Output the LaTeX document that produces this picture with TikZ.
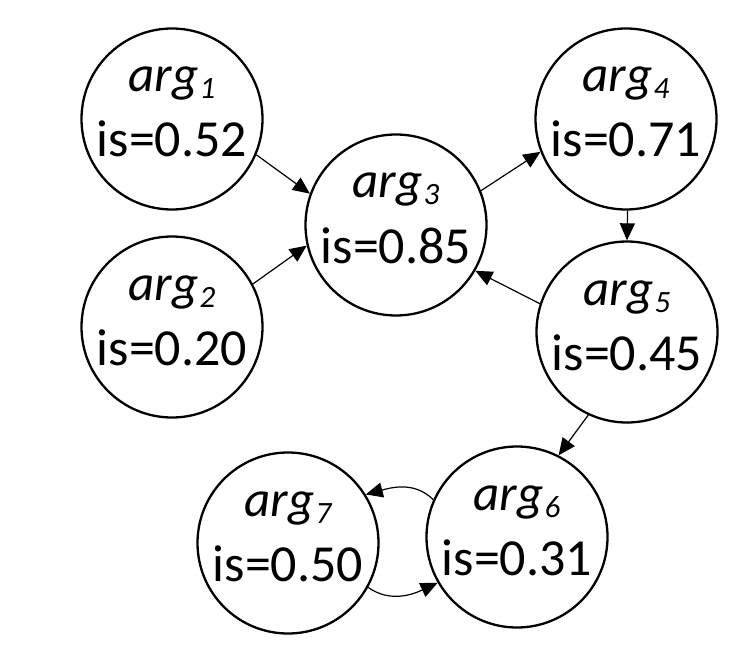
\documentclass[tikz,border=0pt]{standalone}
\usepackage{fontspec}
\setmainfont{Carlito}[Numbers=Lining]
\usetikzlibrary{arrows.meta}
\tikzset{
  argnode/.style={circle,draw=black,line width=2.3pt,minimum size=181pt,inner sep=0pt},
  argname/.style={anchor=base,inner sep=0pt,font=\fontsize{51}{51}\selectfont\itshape},
  argval/.style={anchor=base,inner sep=0pt,font=\fontsize{52}{52}\selectfont},
  edge/.style={line width=1.2pt,-{Triangle[length=17pt,width=15pt]}},
}
\newcommand{\argsub}[1]{\kern1pt\raisebox{-7pt}{\fontsize{31}{31}\selectfont\itshape #1}}
\begin{document}
\begin{tikzpicture}[x=1pt,y=-1pt]
\useasboundingbox (0,0) rectangle (754,652);
% circles
\node[argnode] (a1) at (172,119) {};
\node[argnode] (a2) at (172,327) {};
\node[argnode] (a3) at (396,225) {};
\node[argnode] (a4) at (626,119) {};
\node[argnode] (a5) at (627,332) {};
\node[argnode] (a6) at (517,537) {};
\node[argnode] (a7) at (288,543) {};
% texts
\foreach \n/\v in {1/0.52,2/0.20,3/0.85,4/0.71,5/0.45,6/0.31,7/0.50}{
  \node[argname] (t\n) at ([yshift=27pt]a\n.center) {arg\argsub{\n}};
  \node[argval] (v\n) at ([yshift=-38pt]a\n.center) {is=\v};
}
% edges
\draw[edge] (a1.-23) -- (a3.160.6);
\draw[edge] (a2.28) -- (a3.193.7);
\draw[edge] (a3.22) -- (a4.201.5);
\draw[edge] (a4.-89) -- (a5.90);
\draw[edge] (a5.162) -- (a3.-30.3);
\draw[edge] (a5.245) -- (a6.63);
\draw[edge] (a6.156) to[out=135,in=15] (a7.32);
\draw[edge] (a7.-29) to[out=-35,in=205] (a6.210);
\end{tikzpicture}
\end{document}
